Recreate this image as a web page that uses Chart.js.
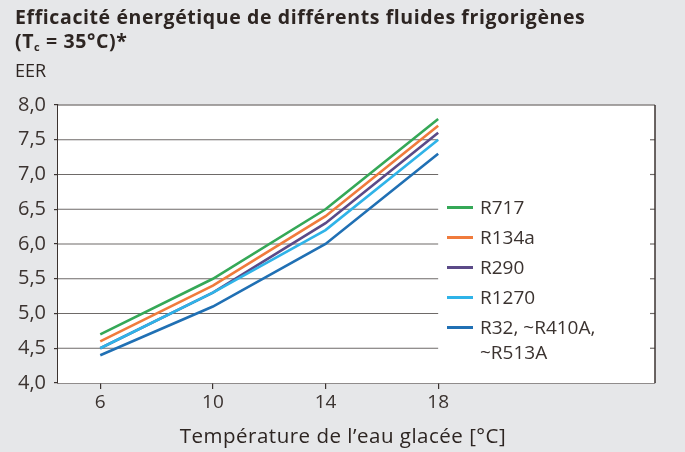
<!DOCTYPE html>
<html>
<head>
<meta charset="utf-8">
<script src="https://cdn.jsdelivr.net/npm/chart.js@4.4.1/dist/chart.umd.min.js"></script>
<style>
body{margin:0;background:#e6e7e9;font-family:"Open Sans",sans-serif;color:#2d2522}
#wrap{position:relative;width:685px;height:452px}
#title{position:absolute;left:15px;top:5px;font-weight:bold;font-size:19.5px;line-height:24px;letter-spacing:0.6px}
#title sub{font-size:11px;vertical-align:-3px;line-height:0}
#ylab{position:absolute;left:15px;top:58px;font-size:18px;line-height:24px}
#xlab{position:absolute;left:343px;top:422px;transform:translateX(-50%);font-size:20.5px;line-height:26px;letter-spacing:0.5px;white-space:nowrap}
#legend{position:absolute;left:447px;top:0;font-size:19px;color:#3b3330}
.item{position:absolute;left:0;white-space:nowrap;line-height:25px}
.item i{position:absolute;left:0;top:11px;width:26px;height:3px}
.item span{position:absolute;left:33px;top:0}
</style>
</head>
<body>
<div id="wrap">
<canvas id="c" width="685" height="452"></canvas>
<div id="title">Efficacité énergétique de différents fluides frigorigènes<br>(T<sub>c</sub> = 35°C)*</div>
<div id="ylab">EER</div>
<div id="xlab">Température de l’eau glacée [°C]</div>
<div id="legend"></div>
</div>
<script>
const temps = [6, 10, 14, 18]
const xTicks = [6, 10, 14, 18]
const names = ['R717', 'R134a', 'R290', 'R1270', 'R32, ~R410A,\n~R513A']
const r717 = [4.7, 5.5, 6.5, 7.8]
const r134a = [4.6, 5.4, 6.4, 7.7]
const r290 = [4.5, 5.3, 6.3, 7.6]
const r1270 = [4.5, 5.3, 6.2, 7.5]
const r32 = [4.4, 5.1, 6.0, 7.3]
const colors = ['#35a857', '#f07b3c', '#5b4a88', '#2fb3e8', '#2070b4']
const series = [r717, r134a, r290, r1270, r32]

// legend, drawn as html
const legend = document.querySelector('#legend')
names.forEach((n, i) => {
    let d = document.createElement('div')
    d.className = 'item'
    d.style.top = (195 + i * 30) + 'px'
    d.innerHTML = `<i style="background:${colors[i]}"></i><span>${n.replace('\n', '<br>')}</span>`
    legend.appendChild(d)
})

const frame = {
    id: 'frame',
    beforeDatasetsDraw(chart) {
        const {ctx, chartArea: a, scales: {x, y}} = chart
        ctx.save()
        ctx.fillStyle = '#fff'
        ctx.fillRect(a.left, a.top, a.right - a.left, a.bottom - a.top)
        ctx.lineWidth = 1.2
        ctx.strokeStyle = '#6e6a68'
        const xEnd = x.getPixelForValue(18)
        for (let v = 4.5; v < 8; v += 0.5) {
            let py = y.getPixelForValue(v)
            ctx.beginPath()
            ctx.moveTo(a.left, py)
            ctx.lineTo(xEnd, py)
            ctx.stroke()
            ctx.beginPath()
            ctx.moveTo(a.right - 5, py)
            ctx.lineTo(a.right, py)
            ctx.stroke()
        }
        ctx.strokeStyle = '#8a8684'
        ctx.lineWidth = 1.5
        ctx.beginPath()
        ctx.moveTo(a.left, a.top)
        ctx.lineTo(a.right, a.top)
        ctx.stroke()
        ctx.strokeStyle = '#3b3330'
        ctx.beginPath()
        ctx.moveTo(a.right, a.top)
        ctx.lineTo(a.right, a.bottom)
        ctx.stroke()
        ctx.restore()
    }
}

new Chart('c', {
    type: 'line',
    data: {
        labels: temps,
        datasets: series.map((s, i) => ({
            label: names[i],
            data: temps.map((t, j) => ({x: t, y: s[j]})),
            borderColor: colors[i],
            backgroundColor: colors[i],
            borderWidth: 2.6,
            pointRadius: 0,
            tension: 0,
            order: i == 3 ? 0 : i + 1
        }))
    },
    options: {
        responsive: false,
        animation: false,
        layout: {padding: {top: 105, right: 30, left: 0, bottom: 0}},
        plugins: {legend: {display: false}, tooltip: {enabled: false}},
        scales: {
            x: {
                type: 'linear',
                min: 4.5,
                max: 25.7,
                afterBuildTicks: (s) => { s.ticks = xTicks.map(v => ({value: v})) },
                afterFit: (s) => { s.height = 69 },
                grid: {drawOnChartArea: false, tickLength: 6, color: '#3b3330', lineWidth: 1.2},
                border: {color: '#3b3330', width: 1.5},
                ticks: {padding: 2, color: '#3b3330', font: {family: 'Open Sans', size: 19}, maxRotation: 0}
            },
            y: {
                min: 4,
                max: 8,
                afterFit: (s) => { s.width = 58 },
                grid: {drawOnChartArea: false, tickLength: 4, color: '#3b3330', lineWidth: 1.2},
                border: {color: '#3b3330', width: 1.5},
                ticks: {stepSize: 0.5, padding: 8, color: '#3b3330', font: {family: 'Open Sans', size: 20},
                    callback: (v) => v.toFixed(1).replace('.', ',')}
            }
        }
    },
    plugins: [frame]
})
</script>
</body>
</html>
